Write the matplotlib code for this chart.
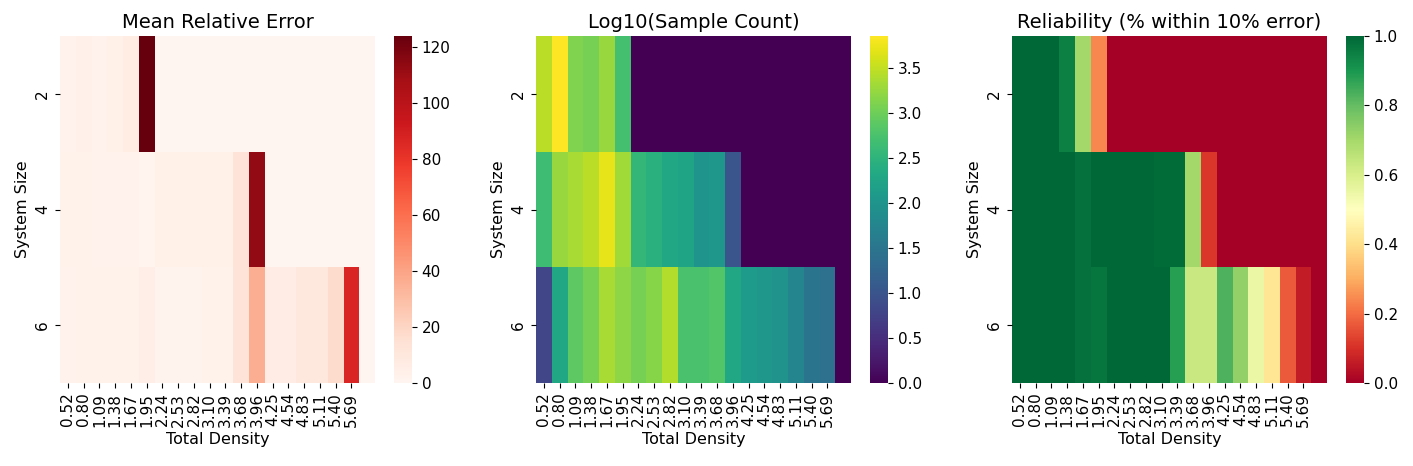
import numpy as np
import pandas as pd
import matplotlib
matplotlib.use("Agg")
import matplotlib.pyplot as plt
import seaborn as sns

system_sizes = [2, 4, 6]
density_labels = ["0.52", "0.80", "1.09", "1.38", "1.67", "1.95", "2.24", "2.53", "2.82", "3.10",
                  "3.39", "3.68", "3.96", "4.25", "4.54", "4.83", "5.11", "5.40", "5.69"]

mre_size2 = [2, 3, 2, 4, 7, 124, 0, 0, 0, 0, 0, 0, 0, 0, 0, 0, 0, 0, 0, 0]
mre_size4 = [2.5, 2.5, 2, 2, 2, 1, 4, 4, 4, 4, 4, 13, 113, 0, 0, 0, 0, 0, 0, 0]
mre_size6 = [2, 2.5, 2.5, 2.5, 2.5, 5, 1.5, 1.5, 1.5, 2.5, 2.5, 13, 36, 6, 6, 10, 10, 17, 87, 0]

logc_size2 = [3.45, 3.85, 3.1, 3.05, 3.25, 2.7, 0, 0, 0, 0, 0, 0, 0, 0, 0, 0, 0, 0, 0, 0]
logc_size4 = [2.65, 3.25, 3.35, 3.45, 3.7, 3.3, 2.55, 2.45, 2.3, 2.25, 2.0, 2.05, 1.0, 0, 0, 0, 0, 0, 0, 0]
logc_size6 = [0.8, 2.3, 2.9, 3.05, 3.35, 3.2, 3.05, 3.15, 3.4, 2.75, 2.75, 2.8, 2.3, 2.1, 2.05, 1.98,
              1.75, 1.48, 1.42, 0]

rel_size2 = [1.0, 1.0, 1.0, 0.95, 0.7, 0.24, 0, 0, 0, 0, 0, 0, 0, 0, 0, 0, 0, 0, 0, 0]
rel_size4 = [1.0, 1.0, 1.0, 1.0, 0.98, 1.0, 1.0, 1.0, 1.0, 0.99, 0.99, 0.7, 0.11, 0, 0, 0, 0, 0, 0, 0]
rel_size6 = [1.0, 1.0, 1.0, 1.0, 0.98, 0.97, 1.0, 1.0, 1.0, 1.0, 0.88, 0.63, 0.63, 0.83, 0.73, 0.55,
             0.42, 0.17, 0.06, 0]

mre = pd.DataFrame([mre_size2, mre_size4, mre_size6], index=system_sizes)
logc = pd.DataFrame([logc_size2, logc_size4, logc_size6], index=system_sizes)
rel = pd.DataFrame([rel_size2, rel_size4, rel_size6], index=system_sizes)

W, H = 1413, 466
fig = plt.figure(figsize=(W / 100, H / 100), dpi=100)

def px_axes(x0, x1, y0, y1):
    return fig.add_axes([x0 / W, 1 - y1 / H, (x1 - x0) / W, (y1 - y0) / H])

panels = [
    (mre, "Reds", "Mean Relative Error", None, None),
    (logc, "viridis", "Log10(Sample Count)", None, None),
    (rel, "RdYlGn", "Reliability (% within 10% error)", 0, 1),
]
lefts = [60, 536, 1012]
for (data, cmap, title, vmin, vmax), left in zip(panels, lefts):
    ax = px_axes(left, left + 315, 36, 383)
    cax = px_axes(left + 334, left + 352, 36, 383)
    sns.heatmap(data, ax=ax, cbar_ax=cax, cmap=cmap, vmin=vmin, vmax=vmax,
                xticklabels=density_labels, yticklabels=system_sizes)
    ax.set_title(title, fontsize=14)
    ax.set_xlabel("Total Density", fontsize=11.5)
    ax.set_ylabel("System Size", fontsize=11.5)
    ax.set_xticks(np.arange(len(density_labels)) + 0.5)
    ax.set_xticklabels(density_labels, rotation=90, fontsize=11)
    ax.set_yticklabels([str(s) for s in system_sizes], rotation=90, va="center", fontsize=11)
    cax.tick_params(labelsize=11)

fig.savefig("out.png", dpi=100)
